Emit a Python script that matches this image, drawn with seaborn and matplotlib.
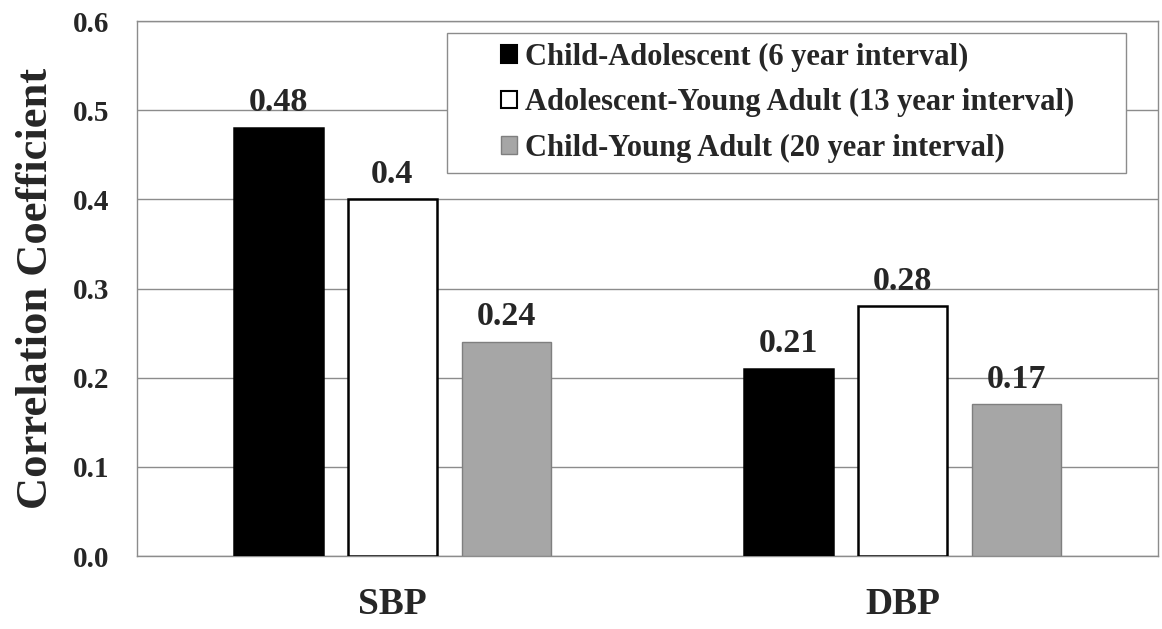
import numpy as np
import pandas as pd
import matplotlib
matplotlib.use("Agg")
import matplotlib.pyplot as plt
from matplotlib.patches import Rectangle
import seaborn as sns

# data
measures = ["SBP", "DBP"]
intervals = ["Child-Adolescent (6 year interval)",
             "Adolescent-Young Adult (13 year interval)",
             "Child-Young Adult (20 year interval)"]
child_adol = [0.48, 0.21]
adol_young = [0.40, 0.28]
child_young = [0.24, 0.17]
bar_labels = [["0.48", "0.21"], ["0.4", "0.28"], ["0.24", "0.17"]]

colors = ["#000000", "#ffffff", "#a6a6a6"]
edges = ["#000000", "#000000", "#7f7f7f"]

df = pd.DataFrame({
    "measure": measures * 3,
    "interval": [intervals[0]] * 2 + [intervals[1]] * 2 + [intervals[2]] * 2,
    "r": child_adol + adol_young + child_young,
})

sns.set_style("white")
plt.rcParams['font.family'] = ['Liberation Serif', 'DejaVu Serif']
plt.rcParams['font.weight'] = 'bold'

fig, ax = plt.subplots(figsize=(11.62, 6.29), dpi=100)
fig.subplots_adjust(left=0.118, right=0.9966, top=0.9666, bottom=0.116)

sns.barplot(data=df, x="measure", y="r", hue="interval", hue_order=intervals,
            palette=colors, width=0.67, gap=0.219, ax=ax, errorbar=None,
            zorder=3)

for cont, ec, labs in zip(ax.containers, edges, bar_labels):
    for bar in cont:
        bar.set_edgecolor(ec)
        bar.set_linewidth(1.8 if ec == "#000000" else 1.0)
    ax.bar_label(cont, labels=labs, padding=7, fontsize=24.5, fontweight='bold')

ax.set_ylim(0, 0.6)
ax.set_yticks(np.arange(0, 0.61, 0.1))
ax.set_yticklabels(["0.0", "0.1", "0.2", "0.3", "0.4", "0.5", "0.6"])
ax.yaxis.grid(True, color="#8c8c8c", linewidth=1.0, zorder=0)
ax.set_axisbelow(True)
for s in ax.spines.values():
    s.set_color("#8c8c8c")
    s.set_linewidth(1.0)
ax.tick_params(axis='y', labelsize=21, length=0, pad=20)
ax.tick_params(axis='x', labelsize=27, length=0, pad=22)
ax.set_xlabel("")
ax.set_ylabel("Correlation Coefficient", fontsize=32, fontweight='bold', labelpad=12)

# legend box has wide side padding, so draw the frame separately
frame = Rectangle((0.3036, 0.716), 0.9687 - 0.3036, 0.9776 - 0.716,
                  transform=ax.transAxes, facecolor="white", edgecolor="#8c8c8c",
                  linewidth=1.0, zorder=4)
ax.add_patch(frame)
leg = ax.legend(loc="upper left", bbox_to_anchor=(0.3565, 0.959), fontsize=22,
                frameon=False, handlelength=0.52, handleheight=0.52,
                handletextpad=0.25, labelspacing=0.53, borderpad=0,
                borderaxespad=0)
leg.set_zorder(5)
for h, ec in zip(leg.legend_handles, edges):
    h.set_edgecolor(ec)
    h.set_linewidth(1.5 if ec == "#000000" else 1.0)

plt.savefig("out.png", dpi=100)
